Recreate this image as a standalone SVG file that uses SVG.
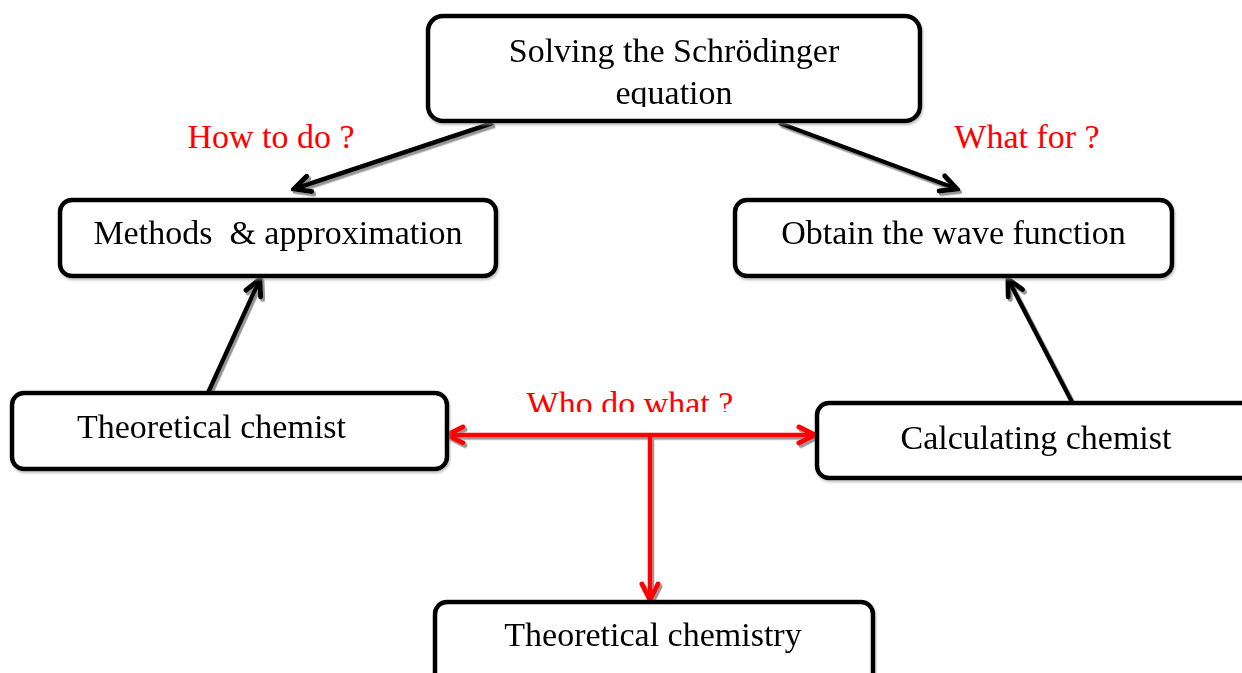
<svg xmlns="http://www.w3.org/2000/svg" width="1242" height="673" viewBox="0 0 1242 673">
<style>
.box{fill:#fff;stroke:#000;stroke-width:4.5}
.t{font-family:"Liberation Serif","Times New Roman",serif;font-size:34px;fill:#000;text-anchor:middle}
.r{fill:#ff0000}
.blk{fill:none;stroke:#000;stroke-width:4.5}
.red{fill:none;stroke:#ff0000;stroke-width:4.5}
</style>
<defs>
<filter id="sh" x="-10%" y="-10%" width="120%" height="130%">
<feDropShadow dx="2" dy="2.5" stdDeviation="0.6" flood-color="#8c8c8c" flood-opacity="0.9"/>
</filter>
<filter id="bsh" x="-5%" y="-5%" width="110%" height="120%">
<feDropShadow dx="1" dy="2" stdDeviation="0.8" flood-color="#999" flood-opacity="0.6"/>
</filter>
<marker id="ab" viewBox="0 0 22 22" refX="19" refY="11" markerWidth="22" markerHeight="22" markerUnits="userSpaceOnUse" orient="auto-start-reverse">
<path d="M3,3 L19,11 L3,19" fill="none" stroke="#000" stroke-width="5" stroke-linecap="round"/>
</marker>
<marker id="ar" viewBox="0 0 22 22" refX="19" refY="11" markerWidth="22" markerHeight="22" markerUnits="userSpaceOnUse" orient="auto-start-reverse">
<path d="M3,3 L19,11 L3,19" fill="none" stroke="#ff0000" stroke-width="5" stroke-linecap="round"/>
</marker>
<clipPath id="c1"><rect x="0" y="0" width="1242" height="107"/></clipPath>
<clipPath id="c2"><rect x="0" y="0" width="1242" height="412"/></clipPath>
</defs>

<g id="connectors" filter="url(#sh)">
<line class="blk" x1="493" y1="123" x2="294" y2="189" marker-end="url(#ab)"/>
<line class="blk" x1="779" y1="123" x2="957" y2="189" marker-end="url(#ab)"/>
<line class="blk" x1="208" y1="393" x2="260" y2="279" marker-end="url(#ab)"/>
<line class="blk" x1="1072" y1="402" x2="1008" y2="279" marker-end="url(#ab)"/>
<line class="red" x1="447" y1="435" x2="815" y2="435" marker-start="url(#ar)" marker-end="url(#ar)"/>
<line class="red" x1="650" y1="435" x2="650" y2="600" marker-end="url(#ar)"/>
</g>

<g id="n-solving" filter="url(#bsh)">
<rect class="box" x="428" y="16" width="492" height="105" rx="15"/>
<g clip-path="url(#c1)">
<text class="t" x="674" y="62">Solving the Schrödinger</text>
<text class="t" x="674" y="104">equation</text>
</g>
</g>

<g id="n-methods" filter="url(#bsh)">
<rect class="box" x="60" y="200" width="436" height="76" rx="12"/>
<text class="t" x="278" y="244" xml:space="preserve">Methods  &amp; approximation</text>
</g>

<g id="n-obtain" filter="url(#bsh)">
<rect class="box" x="735" y="200" width="437" height="76" rx="12"/>
<text class="t" x="953.5" y="244">Obtain the wave function</text>
</g>

<g id="n-theochemist" filter="url(#bsh)">
<rect class="box" x="12" y="393" width="435" height="76" rx="12"/>
<text class="t" x="211.5" y="438">Theoretical chemist</text>
</g>

<g id="n-calc" filter="url(#bsh)">
<rect class="box" x="817" y="403" width="440" height="75" rx="12"/>
<text class="t" x="1036" y="449">Calculating chemist</text>
</g>

<g id="n-theochemistry" filter="url(#bsh)">
<rect class="box" x="435" y="602" width="438" height="90" rx="12"/>
<text class="t" x="653" y="646">Theoretical chemistry</text>
</g>

<g id="labels">
<text class="t r" x="271" y="148">How to do ?</text>
<text class="t r" x="1027" y="148">What for ?</text>
<g clip-path="url(#c2)">
<text class="t r" x="630" y="415">Who do what ?</text>
</g>
</g>
</svg>
